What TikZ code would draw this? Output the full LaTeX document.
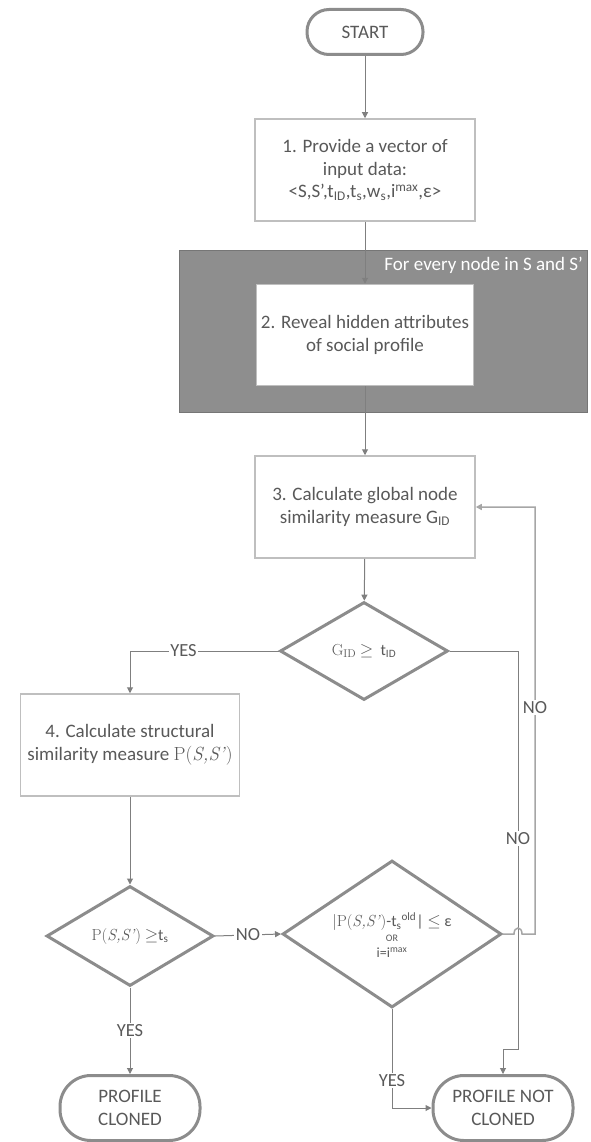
\documentclass[tikz,border=0pt]{standalone}
\usepackage{fontspec}
\setmainfont{Carlito}
\newfontfamily\lmr{Latin Modern Roman}
\usetikzlibrary{arrows.meta,shapes.geometric}
\definecolor{txt}{HTML}{595959}
\definecolor{conn}{HTML}{7F7F7F}
\definecolor{boxline}{HTML}{BFBFBF}
\definecolor{thickline}{HTML}{8C8C8C}
\definecolor{regionfill}{HTML}{8E8E8E}
\definecolor{regionline}{HTML}{767676}
\definecolor{loopline}{HTML}{A6A6A6}
\tikzset{
  base/.style={font=\fontsize{19}{22.5}\selectfont, text=txt, align=center, inner sep=0pt},
  procbox/.style={base, draw=boxline, line width=1.5pt, fill=white, minimum width=220pt, minimum height=102pt},
  term/.style={base, draw=thickline, line width=3pt, fill=white},
  decision/.style={diamond, draw=thickline, line width=3pt, fill=white, inner sep=0pt},
  dtext/.style={base, font=\fontsize{16}{19}\selectfont},
  link/.style={draw=conn, line width=1pt, -{Triangle[length=6pt,width=6pt]}},
  looplink/.style={draw=loopline, line width=1.5pt, -{Triangle[length=6pt,width=6pt]}},
  lbl/.style={font=\fontsize{18.5}{20}\selectfont, text=txt, fill=white, inner sep=1.5pt},
}
\begin{document}
\begin{tikzpicture}[x=1pt,y=-1pt]
\useasboundingbox (0,0) rectangle (590,1142);

% iteration region
\draw[fill=regionfill, draw=regionline, line width=1pt] (179,250) rectangle (587,412);
\node[base, anchor=east, text=white] (regionlbl) at (583,265) {For every node in S and S’};

% nodes
\node[term, minimum width=116pt, minimum height=45pt, rounded corners=22pt] (start) at (365,32) {START};
\node[procbox] (b1) at (365,170) {1. Provide a vector of\\input data:\\<S,S’,t\textsubscript{ID},t\textsubscript{s},w\textsubscript{s},i\textsuperscript{max},ε>};
\node[procbox, minimum width=217pt, minimum height=101pt] (b2) at (365,335) {2. Reveal hidden attributes\\of social profile};
\node[procbox] (b3) at (365,507) {3. Calculate global node\\similarity measure G$_{\mathrm{ID}}$};
\node[decision, minimum width=168pt, minimum height=98pt,
      label={[dtext]center:{\lmr G\textsubscript{ID}} $\geq$\ \ t\textsubscript{ID}}] (d1) at (364,651) {};
\node[procbox, minimum width=219pt] (b4) at (130,745) {4. Calculate structural\\similarity measure {\lmr P(\textit{S,S’})}};
\node[decision, minimum width=167pt, minimum height=100pt,
      label={[dtext]center:{\lmr P(\textit{S,S’})} $\geq$t\textsubscript{s}}] (d2) at (130,936) {};
\node[decision, minimum width=219pt, minimum height=147pt,
      label={[dtext, yshift=-1pt]center:{{\lmr |P(\textit{S,S’})}-t\textsubscript{s}\textsuperscript{old}| $\leq$ ε}\\[-4pt]{\fontsize{10}{11}\selectfont OR}\\[-3pt]{\fontsize{14}{16}\selectfont i=i\textsuperscript{max}}}] (d3) at (392,934) {};
\node[term, minimum width=140pt, minimum height=65pt, rounded corners=31pt] (pc) at (130,1108) {PROFILE\\CLONED};
\node[term, minimum width=140pt, minimum height=65pt, rounded corners=31pt] (pnc) at (503,1108) {PROFILE NOT\\CLONED};

% connectors
\draw[link] (start) -- (b1);
\draw[link] (b1) -- (b2);
\draw[link] (b2) -- (b3);
\draw[link] (b3) -- (d1);
\draw[link] (d1.west) -- node[lbl, pos=0.64]{YES} (d1.west -| b4) -- (b4);
\draw[link] (b4) -- (d2);
\draw[link] (d2.east) -- node[lbl]{NO} (d3.west);
\draw[link] (d2.south) -- node[lbl]{YES} (pc.north);
\draw[link] (d3.south) -- node[lbl, pos=0.72]{YES} (d3.south |- pnc.west) -- (pnc.west);
\draw[link] (d1.east) -- (518,651) -- node[lbl, pos=0.47]{NO} (518,1049) -- (503,1049) -- (pnc.north);
\draw[looplink] (d3.east) -- (514,934) .. controls (514,926) and (522,926) .. (522,934) -- (535,934) -- node[lbl, pos=0.53]{NO} (535,507) -- (b3.east);
\end{tikzpicture}
\end{document}
